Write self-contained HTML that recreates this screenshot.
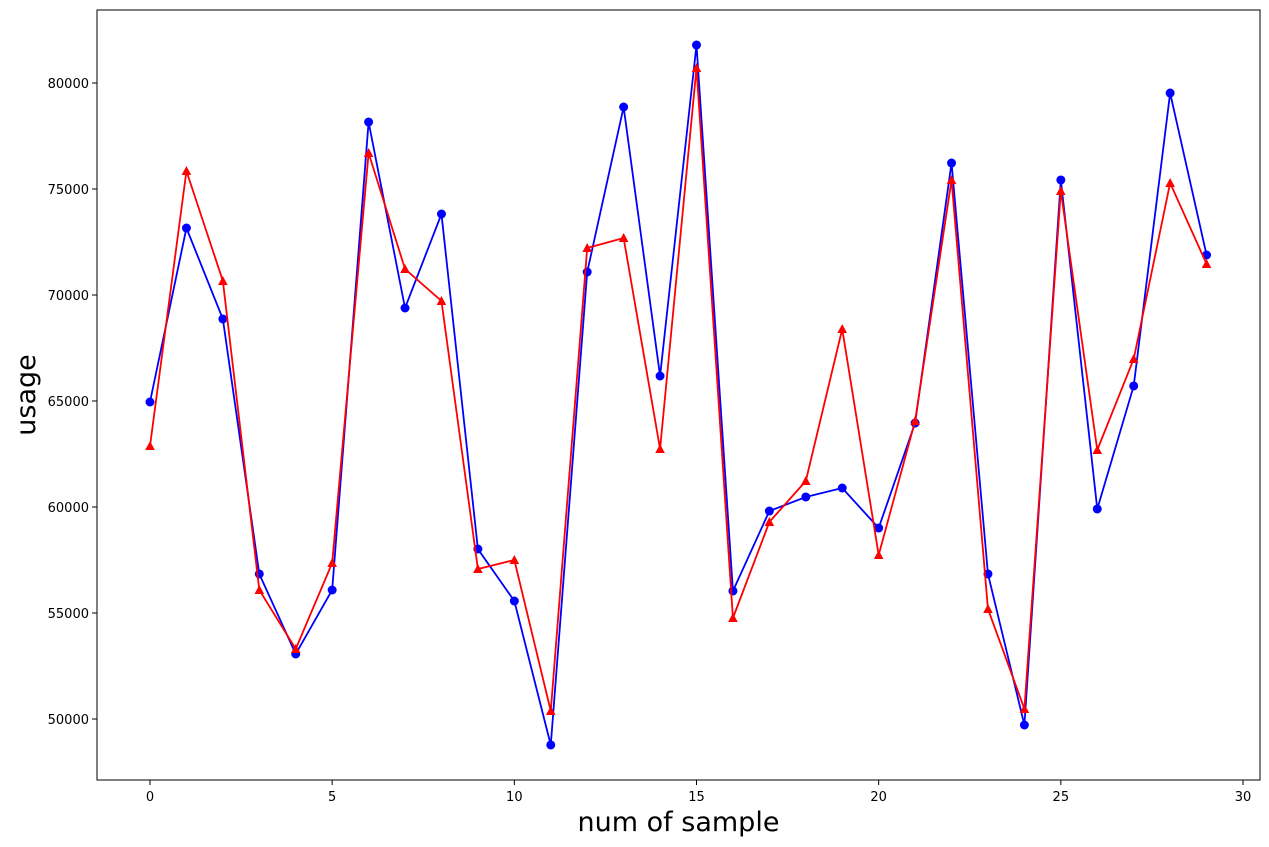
<!DOCTYPE html>
<html><head><meta charset="utf-8"><style>
body{margin:0;background:#fff;}
svg{display:block;font-family:"DejaVu Sans","Liberation Sans",sans-serif;}
</style></head><body>
<svg id="chart" width="1269" height="847" xmlns="http://www.w3.org/2000/svg"></svg>
<script>
const xTicks=[0,5,10,15,20,25,30];
const yTicks=[50000,55000,60000,65000,70000,75000,80000];
const blueSeries=[64953,73160,68868,56840,53066,56085,78160,69387,73821,58019,55566,48774,71085,78868,66179,81792,56038,59811,60472,60896,59009,63962,76226,56840,49717,75425,59906,65708,79528,71887];
const redSeries=[62877,75849,70660,56085,53302,57358,76698,71226,69717,57075,57500,50377,72217,72689,62736,80708,54764,59292,61226,68396,57736,64057,75425,55189,50472,74906,62689,66981,75283,71462];
const NS='http://www.w3.org/2000/svg';
const svg=document.getElementById('chart');
const L=97,R=1260,T=10,B=780;
const sx=v=>150+v*(1243-150)/30;
const sy=v=>83+(80000-v)*(719-83)/30000;
function mk(t,a,p){const e=document.createElementNS(NS,t);for(const k in a)e.setAttribute(k,a[k]);(p||svg).appendChild(e);return e;}
const frame=mk('rect',{x:L,y:T,width:R-L,height:B-T,fill:'none',stroke:'#000','stroke-width':1});


xTicks.forEach(v=>{
  const l=mk('line',{x1:sx(v),x2:sx(v),y1:B,y2:B+5,stroke:'#000'});
  
  
  const t=mk('text',{x:sx(v),y:B+21,'text-anchor':'middle','font-size':13});
  t.textContent=v;
  
  
});
yTicks.forEach(v=>{
  const l=mk('line',{x1:L-5,x2:L,y1:sy(v),y2:sy(v),stroke:'#000'});
  
  
  const t=mk('text',{x:L-8,y:sy(v)+5,'text-anchor':'end','font-size':13});
  t.textContent=v;
  
  
});
function series(data,color,marker,name){
  const g=mk('g',{});
  
  
  const pl=mk('polyline',{points:data.map((v,i)=>sx(i)+','+sy(v)).join(' '),fill:'none',stroke:color,'stroke-width':1.8},g);
  
  
  data.forEach((v,i)=>{
    const x=sx(i),y=sy(v);let m;
    if(marker==='o')m=mk('circle',{cx:x,cy:y,r:4.5,fill:color},g);
    else m=mk('polygon',{points:`${x},${y-5} ${x+4.8},${y+4} ${x-4.8},${y+4}`,fill:color},g);
    
    
  });
}
series(blueSeries,'#0000ff','o','blue-series');
series(redSeries,'#ff0000','^','red-series');
const xt=mk('text',{x:(L+R)/2,y:831,'text-anchor':'middle','font-size':27});
xt.textContent='num of sample';


const yt=mk('text',{x:0,y:0,'text-anchor':'middle','font-size':27,transform:`translate(35,${(T+B)/2}) rotate(-90)`});
yt.textContent='usage';


</script>
</body></html>
